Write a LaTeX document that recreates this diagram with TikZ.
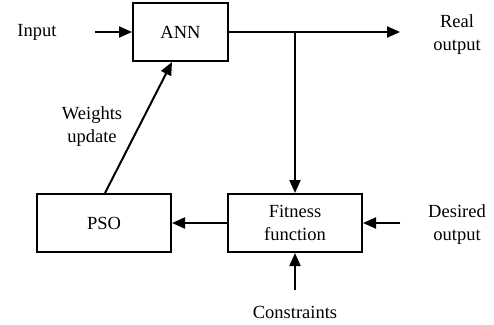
\documentclass[tikz,border=0pt]{standalone}
\usepackage{fontspec}
\setmainfont{Liberation Serif}
\usetikzlibrary{arrows.meta,calc}
\begin{document}
\begin{tikzpicture}[x=1pt,y=-1pt,
  blk/.style={draw,line width=2pt,minimum width=95pt,minimum height=58pt,inner sep=0pt,align=center,font=\fontsize{18.5}{23}\selectfont},
  lbl/.style={align=center,inner sep=0pt,font=\fontsize{18.5}{23}\selectfont},
  conn/.style={line width=2pt,-{Triangle[length=13pt,width=11pt]}}]
\useasboundingbox (0,0) rectangle (494,324);
\node[blk] (ann) at (180.5,32) {ANN};
\node[blk,minimum width=134pt] (fit) at (295,223) {Fitness\\function};
\node[blk,minimum width=134pt] (pso) at (104,223) {PSO};
\node[lbl] (in) at (37,32) {Input};
\coordinate (ins) at (95,32);
\node[lbl] (real) at (457,35) {Real\\output};
\coordinate (outend) at (400,32);
\coordinate (br) at (295,32);
\node[lbl] (des) at (457,224.5) {Desired\\output};
\coordinate (dess) at (400,223);
\node[lbl] (con) at (295,312) {Constraints};
\coordinate (cons) at (295,290);
\node[lbl] (wu) at (92,126.5) {Weights\\update};
\draw[conn] (ins) -- (ann.west);
\draw[conn] (ann.east) -- (outend);
\draw[conn] (br) -- (fit.north);
\draw[conn] (fit.west) -- (pso.east);
\draw[conn] (dess) -- (fit.east);
\draw[conn] (cons) -- (fit.south);
\draw[conn] ($(pso.north)+(1,0)$) -- ($(ann.south)+(-8.5,0)$);
\end{tikzpicture}
\end{document}
